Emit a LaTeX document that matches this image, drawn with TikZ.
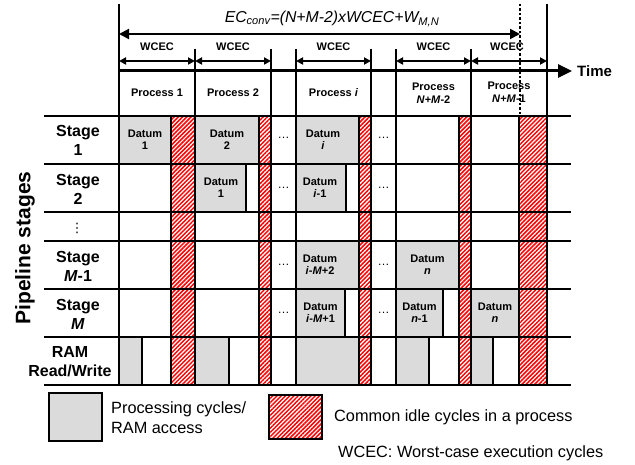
\documentclass[tikz,border=0pt]{standalone}
\usepackage{fontspec}
\setmainfont{Liberation Sans}
\newfontfamily\dejavu{DejaVu Sans}
\usetikzlibrary{arrows.meta,patterns.meta}
\newcommand\fsz[2]{\fontsize{#1}{#2}\selectfont}
\begin{document}
\begin{tikzpicture}[x=1pt,y=-1pt,
  every node/.style={inner sep=0pt},
  gridline/.style={line width=2.6pt},
  gcell/.style={fill=black!14, draw=black, line width=2.4pt},
  hatch/.style={draw=black, line width=2.2pt, pattern={Lines[angle=45,distance=3pt,line width=1.5pt]}, pattern color=red},
  dtext/.style={font=\bfseries\fsz{11}{12}, align=center},
  ptext/.style={font=\bfseries\fsz{11}{12.5}, align=center},
  stext/.style={font=\bfseries\fsz{16}{19}, align=center},
  dotstext/.style={font=\fsz{12}{12}},
  ltext/.style={font=\fsz{16.3}{20}, align=left, anchor=west},
  warrow/.style={line width=1.8pt, {Triangle[length=7pt,width=7pt]}-{Triangle[length=7pt,width=7pt]}},
]
\useasboundingbox (0,0) rectangle (635,465);

% gray cells
\draw[gcell] (119,116) rectangle (171,164);
\draw[gcell] (195,116) rectangle (259,164);
\draw[gcell] (296,116) rectangle (359,164);
\draw[gcell] (195,164) rectangle (246,212);
\draw[gcell] (296,164) rectangle (346,212);
\draw[gcell] (296,241) rectangle (359,289);
\draw[gcell] (396,241) rectangle (459,289);
\draw[gcell] (296,289) rectangle (345,337);
\draw[gcell] (396,289) rectangle (443,337);
\draw[gcell] (471,289) rectangle (519,337);
% RAM accesses
\draw[gcell] (119,337) rectangle (142,385);
\draw[gcell] (195,337) rectangle (229,385);
\draw[gcell] (296,337) rectangle (359,385);
\draw[gcell] (396,337) rectangle (429,385);
\draw[gcell] (471,337) rectangle (493,385);

% hatched idle columns
\foreach \a/\b in {171/195,259/271,359/371,459/471,519/547}
  \draw[hatch] (\a,116) rectangle (\b,385);

% grid
\foreach \y in {116,164,212,241,289,337,385}
  \draw[gridline] (44,\y) -- (571,\y);
\draw[gridline] (119,4) -- (119,385);
\draw[gridline] (547,4) -- (547,385);
\foreach \x in {195,271,296,371,396,471}
  \draw[gridline] (\x,49) -- (\x,385);

% datum labels
\node[dtext] (d11) at (145,140) {Datum\\1};
\node[dtext] (d12) at (227,140) {Datum\\2};
\node[dtext] (d1i) at (323,140) {Datum\\\textit{i}};
\node[dtext] (d21) at (221,188) {Datum\\1};
\node[dtext] (d2i) at (320,188) {Datum\\\textit{i}-1};
\node[dtext] (d3i) at (320,265) {Datum\\\textit{i}-\textit{M}+2};
\node[dtext] (d3n) at (427.5,265) {Datum\\\textit{n}};
\node[dtext] (d4i) at (320.5,313) {Datum\\\textit{i}-\textit{M}+1};
\node[dtext] (d4n) at (419.5,313) {Datum\\\textit{n}-1};
\node[dtext] (d4nn) at (495,313) {Datum\\\textit{n}};

% ellipses
\foreach \r/\yy in {1/138,2/188,3/265,4/313}{
  \node[dotstext] (ea\r) at (283.5,\yy) {…};
  \node[dotstext] (eb\r) at (383.5,\yy) {…};
}

% row labels
\node[stext] (s1) at (78,140) {Stage\\1};
\node[stext] (s2) at (78,189) {Stage\\2};
\node[font=\dejavu\fsz{13}{13}] (sd) at (77,228) {⋮};
\node[stext] (sm1) at (78,266) {Stage\\\textit{M}-1};
\node[stext] (sm) at (78,314) {Stage\\\textit{M}};
\node[stext] (ram) at (70,362) {RAM\\Read/Write};
\node[rotate=90, font=\bfseries\fsz{21}{21}] (ps) at (25,248) {Pipeline stages};

% process labels
\node[ptext] (p1) at (157,93) {Process 1};
\node[ptext] (p2) at (233,93) {Process 2};
\node[ptext] (pi) at (333.5,93) {Process \textit{i}};
\node[ptext] (pn2) at (433.5,93) {Process\\\textit{N}+\textit{M}-2};
\node[ptext] (pn1) at (509,92) {Process\\\textit{N}+\textit{M}-1};

% WCEC labels and arrows
\foreach \n/\xc in {1/157,2/233,3/333.5,4/433.5,5/507}
  \node[ptext] (w\n) at (\xc,47) {WCEC};
\draw[warrow] (119,61) -- (195,61);
\draw[warrow] (195,61) -- (271,61);
\draw[warrow] (296,61) -- (371,61);
\draw[warrow] (396,61) -- (471,61);
\draw[warrow] (471,61) -- (547,61);

% time axis
\draw[line width=3pt, -{Triangle[length=14pt,width=13pt]}] (119,71) -- (572,71);
\node[anchor=west, font=\bfseries\fsz{15}{15}] (time) at (577,71) {Time};

% total execution cycles
\draw[line width=2pt, {Triangle[length=10pt,width=10pt]}-{Triangle[length=10pt,width=10pt]}] (119,34) -- (520,34);
\node[font=\itshape\fsz{15.8}{15.8}] (ec) at (332,19) {EC\textsubscript{conv}=(N+M-2)xWCEC+W\textsubscript{M,N}};
\draw[line width=2.6pt, dash pattern=on 2.5pt off 2pt] (520,4) -- (520,116);

% legend
\draw[gcell] (49,393) rectangle (102,441);
\node[ltext] (lg1) at (111,418) {Processing cycles/\\RAM access};
\draw[hatch] (269,395) rectangle (322,439);
\node[ltext] (lg2) at (334,417) {Common idle cycles in a process};
\node[ltext] (lg3) at (338,453) {WCEC: Worst-case execution cycles};
\end{tikzpicture}
\end{document}
